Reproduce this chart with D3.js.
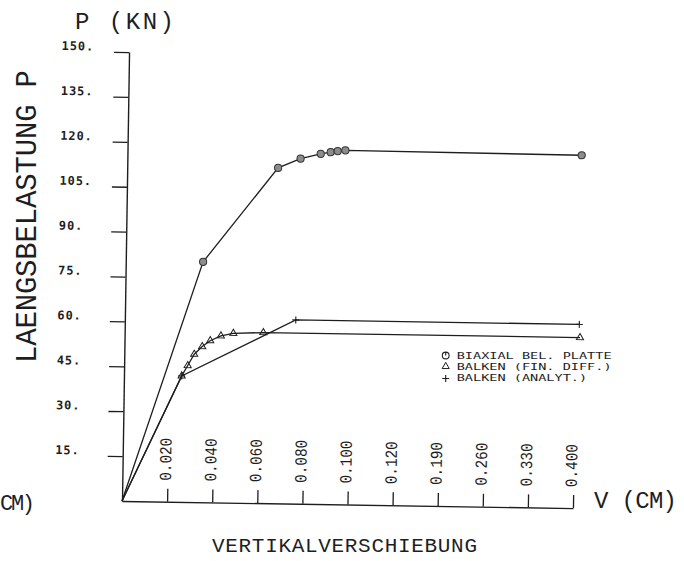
<!DOCTYPE html>
<html>
<head>
<meta charset="utf-8">
<script src="https://cdn.jsdelivr.net/npm/d3@7"></script>
<style>
  html, body { margin: 0; padding: 0; background: #fff; }
  svg { display: block; }
  text { fill: #1e1e1e; }
</style>
</head>
<body>
<svg id="chart" width="684" height="561"></svg>
<script>
// ---- data ----
const yTicks = [15, 30, 45, 60, 75, 90, 105, 120, 135, 150];
const xTicks = [0.020, 0.040, 0.060, 0.080, 0.100, 0.120, 0.190, 0.260, 0.330, 0.400];
const xTickLabels = ["0.020", "0.040", "0.060", "0.080", "0.100", "0.120", "0.190", "0.260", "0.330", "0.400"];

const biaxialV = [0, 0.0343, 0.0669, 0.0768, 0.0857, 0.0901, 0.0932, 0.0966, 0.405];
const biaxialP = [0, 80.3, 112.1, 115.3, 117.0, 117.6, 118.0, 118.3, 117.9];

const finDiffV = [0, 0.0256, 0.0282, 0.0310, 0.0345, 0.0380, 0.0427, 0.0482, 0.0615, 0.4068];
const finDiffP = [0, 42.1, 45.6, 49.4, 52.0, 54.0, 55.7, 56.6, 57.0, 57.0];

const analytV = [0, 0.0256, 0.0758, 0.4054];
const analytP = [0, 42.1, 61.4, 61.4];

const legendLabels = ["BIAXIAL BEL. PLATTE", "BALKEN (FIN. DIFF.)", "BALKEN (ANALYT.)"];

// ---- drawing ----
const svg = d3.select("#chart");
const ink = "#1e1e1e";
const mono = "'Liberation Mono', 'DejaVu Sans Mono', monospace";

// plot frame (slightly rotated like the scanned plot)
const g = svg.append("g").attr("transform", "translate(122,501) rotate(0.9)");

const x = d3.scaleLinear().domain([0, 0.12, 0.4]).range([0, 270.6, 451]);
const y = d3.scaleLinear().domain([0, 150]).range([0, -449]);

// y axis
const yAxis = d3.axisLeft(y).tickValues(yTicks).tickSize(15).tickSizeOuter(0)
  .tickFormat(d => d + ".");
const gy = g.append("g").call(yAxis);
gy.select(".domain").attr("stroke", ink).attr("stroke-width", 1.4);
gy.selectAll(".tick line").attr("stroke", ink).attr("stroke-width", 1.3);
gy.selectAll(".tick text")
  .attr("x", -67.5).attr("y", -1.5).attr("dy", 0)
  .attr("text-anchor", "start")
  .style("font-family", "'DejaVu Sans Mono', monospace")
  .style("font-size", "12px").style("font-weight", "bold")
  .style("letter-spacing", "0.9px")
  .attr("fill", ink);

// x axis
const xAxis = d3.axisTop(x).tickValues(xTicks).tickSize(13).tickSizeOuter(0)
  .tickFormat((d, i) => xTickLabels[i]);
const gx = g.append("g").call(xAxis);
gx.select(".domain").attr("stroke", ink).attr("stroke-width", 1.4);
gx.selectAll(".tick line").attr("stroke", ink).attr("stroke-width", 1.3);
gx.selectAll(".tick text")
  .attr("transform", "rotate(-90)")
  .attr("x", 21).attr("y", 3).attr("dy", 0)
  .attr("text-anchor", "start")
  .attr("textLength", 43).attr("lengthAdjust", "spacingAndGlyphs")
  .style("font-family", mono)
  .style("font-size", "17px")
  .attr("fill", ink);

// series
const line = d3.line().x(d => x(d[0])).y(d => y(d[1]));
const zip = (a, b) => a.map((v, i) => [v, b[i]]);
const s1 = zip(biaxialV, biaxialP);
const s2 = zip(finDiffV, finDiffP);
const s3 = zip(analytV, analytP);

[s1, s2, s3].forEach(s => {
  g.append("path").datum(s).attr("d", line)
    .attr("fill", "none").attr("stroke", ink).attr("stroke-width", 1.3);
});

// markers
g.selectAll(".m1").data(s1.slice(1)).enter().append("circle")
  .attr("cx", d => x(d[0])).attr("cy", d => y(d[1])).attr("r", 3.6)
  .attr("fill", "#8c8c8c").attr("stroke", "#333").attr("stroke-width", 1);

const tri = d3.symbol().type(d3.symbolTriangle).size(22);
g.selectAll(".m2").data(s2.slice(1)).enter().append("path")
  .attr("d", tri)
  .attr("transform", d => `translate(${x(d[0])},${y(d[1])})`)
  .attr("fill", "none").attr("stroke", ink).attr("stroke-width", 1);

g.selectAll(".m3").data(s3.slice(1)).enter().append("path")
  .attr("d", "M-3.5,0H3.5M0,-3.5V3.5")
  .attr("transform", d => `translate(${x(d[0])},${y(d[1])})`)
  .attr("fill", "none").attr("stroke", ink).attr("stroke-width", 1.1);

// titles
svg.append("text").attr("x", 75).attr("y", 29)
  .attr("textLength", 99).attr("lengthAdjust", "spacing")
  .style("font-family", mono).style("font-size", "24px")
  .text("P (KN)");

svg.append("text")
  .attr("transform", "translate(36,363) rotate(-90)")
  .attr("textLength", 293).attr("lengthAdjust", "spacing")
  .style("font-family", mono).style("font-size", "29px")
  .text("LAENGSBELASTUNG P");

svg.append("text").attr("x", 212).attr("y", 551.5)
  .attr("textLength", 265).attr("lengthAdjust", "spacing")
  .style("font-family", mono).style("font-size", "21px")
  .text("VERTIKALVERSCHIEBUNG");

svg.append("text").attr("x", 594).attr("y", 508)
  .attr("textLength", 83).attr("lengthAdjust", "spacing")
  .style("font-family", mono).style("font-size", "24px")
  .text("V (CM)");

svg.append("text").attr("x", 0).attr("y", 510)
  .attr("textLength", 35).attr("lengthAdjust", "spacing")
  .style("font-family", mono).style("font-size", "22px")
  .text("CM)");

// legend
const legY = [359, 370, 381];
const leg = svg.append("g");
legendLabels.forEach((t, i) => {
  leg.append("text").attr("x", 456.7).attr("y", legY[i])
    .attr("textLength", t.length * 8.15).attr("lengthAdjust", "spacingAndGlyphs")
    .style("font-family", "'DejaVu Sans Mono', monospace")
    .style("font-size", "9.5px")
    .text(t);
});
const cy0 = legY[0] - 3.5, cy1 = legY[1] - 3.5, cy2 = legY[2] - 3.5;
leg.append("circle").attr("cx", 445.7).attr("cy", cy0).attr("r", 3.4)
  .attr("fill", "none").attr("stroke", ink).attr("stroke-width", 1.1);
leg.append("path").attr("d", `M445.7,${cy0 - 3.4}V${cy0}`)
  .attr("stroke", ink).attr("stroke-width", 1.1);
leg.append("path").attr("d", tri).attr("transform", `translate(445.7,${cy1})`)
  .attr("fill", "none").attr("stroke", ink).attr("stroke-width", 1);
leg.append("path").attr("d", "M-3.5,0H3.5M0,-3.5V3.5")
  .attr("transform", `translate(445.7,${cy2 + 1})`)
  .attr("fill", "none").attr("stroke", ink).attr("stroke-width", 1.1);
</script>
</body>
</html>
